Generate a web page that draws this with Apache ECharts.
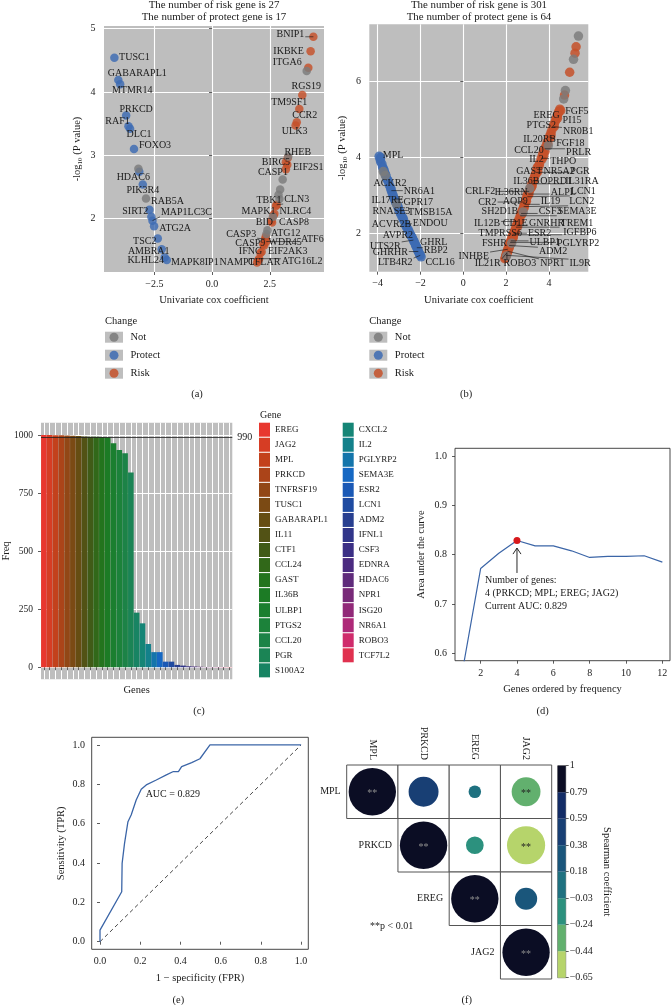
<!DOCTYPE html>
<html>
<head>
<meta charset="utf-8">
<title>Figure</title>
<script src="https://cdn.jsdelivr.net/npm/echarts@6/dist/echarts.min.js"></script>
<style>
html,body{margin:0;padding:0;background:#ffffff;}
#chart{width:671px;height:1005px;}
</style>
</head>
<body>
<div id="chart"></div>
<script>
// ================= DATA =================
// ---- Panel (a): univariate cox, training set ----
const riskCountA = 27, protectCountA = 17;
const protectA = [
 ['TUSC1',-4.23,4.54],['GABARAPL1',-4.06,4.19],['MTMR14',-3.98,4.12],['PRKCD',-3.72,3.63],
 ['RAF1',-3.62,3.46],['DLC1',-3.55,3.42],['FOXO3',-3.38,3.10],['HDAC6',-3.15,2.74],
 ['PIK3R4',-3.00,2.54],['RAB5A',-2.71,2.14],['SIRT2',-2.63,2.03],['MAP1LC3C',-2.58,1.97],
 ['ATG2A',-2.51,1.88],['TSC2',-2.35,1.69],['AMBRA1',-2.18,1.52],['KLHL24',-2.05,1.39],['MAPK8IP1',-1.96,1.35]
];
const riskA = [
 ['BNIP1',4.39,4.87],['IKBKE',4.27,4.64],['ITGA6',4.17,4.38],['RGS19',3.91,3.95],['TM9SF1',3.78,3.73],
 ['CCR2',3.67,3.52],['ULK3',3.62,3.47],['RHEB',3.28,2.96],['BIRC5',3.20,2.89],['EIF2S1',3.26,2.85],
 ['CASP1',3.20,2.78],['TBK1',2.77,2.20],['CLN3',2.80,2.22],['MAPK1',2.66,2.05],['NLRC4',2.70,2.08],
 ['BID',2.57,1.97],['CASP8',2.60,1.94],['CASP3',2.30,1.68],['ATG12',2.33,1.72],['CASP9',2.22,1.60],
 ['WDR45',2.26,1.58],['ATF6',2.35,1.64],['IFNG',2.10,1.46],['EIF2AK3',2.15,1.48],['NAMPT',1.95,1.31],
 ['CFLAR',2.00,1.34],['ATG16L2',2.04,1.37]
];
const notA = [[-3.19,2.79],[-2.86,2.32],[4.10,4.33],[3.30,2.98],[3.06,2.62],[2.95,2.46],[2.88,2.38],[2.92,2.31],[2.64,2.03],[2.40,1.82],[2.36,1.76]];

// ---- Panel (b): univariate cox, immune genes ----
const riskCountB = 301, protectCountB = 64;
const protectB = [
 ['MPL',-3.93,4.02],['',-3.89,3.95],['',-3.86,3.88],['',-3.80,3.82],['',-3.77,3.74],['',-3.70,3.66],
 ['',-3.68,3.60],['ACKR2',-3.61,3.50],['',-3.56,3.42],['',-3.49,3.35],['',-3.46,3.27],['',-3.40,3.20],
 ['NR6A1',-3.36,3.12],['',-3.32,3.05],['IL17RE',-3.26,2.95],['GPR17',-3.22,2.90],['',-3.15,2.80],
 ['',-3.08,2.73],['RNASE3',-3.03,2.65],['TMSB15A',-2.99,2.60],['',-2.92,2.50],['',-2.86,2.43],
 ['ACVR2B',-2.79,2.35],['ENDOU',-2.71,2.25],['',-2.65,2.16],['AVPR2',-2.54,2.05],['',-2.46,1.95],
 ['',-2.38,1.88],['UTS2R',-2.33,1.82],['GHRL',-2.27,1.75],['',-2.22,1.68],['RBP2',-2.17,1.62],
 ['',-2.13,1.57],['GHRHR',-2.10,1.52],['',-2.05,1.47],['LTB4R2',-2.01,1.42],['CCL16',-1.97,1.38],
 ['',-3.86,3.99],['',-3.74,3.70],['',-3.63,3.55],['',-3.52,3.38],['',-3.38,3.16],['',-3.28,3.00],
 ['',-3.18,2.85],['',-3.05,2.70],['',-2.95,2.55],['',-2.82,2.40],['',-2.68,2.20],['',-2.58,2.10],
 ['',-2.50,2.00],['',-2.42,1.92],['',-2.30,1.78],['',-2.20,1.66],['',-2.12,1.54],['',-2.04,1.44]
];
const riskB = [
 ['FGF5',4.51,5.26],['EREG',4.45,5.17],['PI15',4.38,5.07],['PTGS2',4.30,4.94],['NR0B1',4.20,4.80],
 ['IL20RB',4.08,4.62],['FGF18',4.02,4.53],['CCL20',3.86,4.28],['PRLR',3.80,4.22],['IL2',3.70,4.06],
 ['THPO',3.64,3.97],['GAST',3.50,3.76],['NR5A2',3.45,3.68],['PGR',3.40,3.60],['IL36B',3.32,3.47],
 ['OPRD1',3.26,3.38],['IL31RA',3.21,3.30],['IL36RN',3.12,3.16],['CRLF2',3.08,3.10],['ALPL',3.04,3.03],
 ['LCN1',2.99,2.96],['AQP9',2.94,2.88],['CR2',2.90,2.82],['IL19',2.86,2.76],['LCN2',2.82,2.70],
 ['SH2D1B',2.74,2.58],['CSF3',2.70,2.52],['SEMA3E',2.66,2.46],['IL12B',2.56,2.31],['CD1E',2.52,2.25],
 ['GNRHR',2.49,2.21],['TREM1',2.46,2.16],['TMPRSS6',2.38,2.04],['ESR2',2.35,2.00],['IGFBP6',2.32,1.96],
 ['FSHR',2.25,1.85],['ULBP1',2.22,1.80],['PGLYRP2',2.19,1.76],['ADM2',2.14,1.68],['INHBE',2.08,1.58],
 ['NPR1',2.06,1.53],['ROBO3',2.04,1.50],['IL21R',2.03,1.48],['IL9R',2.00,1.42],
 ['',1.97,1.36],['',1.99,1.40],['',2.01,1.45],['',2.09,1.55],['',2.12,1.63],['',2.17,1.72],
 ['',2.30,1.92],['',2.43,2.10],['',2.61,2.38],['',2.78,2.63],['',3.16,3.22],['',3.35,3.52],
 ['',3.57,3.85],['',3.74,4.13],['',3.91,4.38],['',4.13,4.70],['',4.24,4.87],['',4.33,5.00],
 ['',4.41,5.12],['',4.47,5.20],['',2.32,1.88],['',2.55,2.28],['',2.98,3.00],['',3.45,3.72],
 ['',4.55,5.22],['',4.40,5.02],['',4.25,4.80],['',4.10,4.58],['',3.95,4.35],['',3.82,4.15],
 ['',3.68,3.95],['',3.55,3.78],['',3.42,3.58],['',3.30,3.40],['',3.18,3.20],['',3.06,3.02],
 ['',2.95,2.84],['',2.85,2.68],['',2.74,2.50],['',2.64,2.34],['',2.54,2.18],['',2.44,2.04],
 ['',2.34,1.90],['',2.24,1.76],['',2.15,1.62],['',2.07,1.50],['',1.94,1.33],['',4.08,4.52],
 ['',3.75,4.02],['',3.48,3.62],['',3.22,3.25],['',2.92,2.88],['',2.68,2.46],['',2.40,2.02],['',2.18,1.70],
 ['',4.73,5.63],['',4.97,6.23],['',5.22,6.73],['',5.27,6.90]
];
const notB = [[-3.74,3.62],[-3.64,3.52],[-3.12,2.77],[5.38,7.18],[5.15,6.57],[4.77,5.75],[4.69,5.53],[3.97,4.30],[2.80,2.56],[2.02,1.40],[2.26,1.74],[3.10,3.18]];

// ---- Panel (c): frequency of genes ----
const genesC = ['EREG','JAG2','MPL','PRKCD','TNFRSF19','TUSC1','GABARAPL1','IL11','CTF1','CCL24','GAST','IL36B','ULBP1','PTGS2','CCL20','PGR','S100A2',
 'CXCL2','IL2','PGLYRP2','SEMA3E','ESR2','LCN1','ADM2','IFNL1','CSF3','EDNRA','HDAC6','NPR1','ISG20','NR6A1','ROBO3','TCF7L2'];
const freqC = [1000,1000,999,999,998,997,996,994,993,992,991,990,965,935,921,839,235,189,100,65,65,24,24,10,7,4,3,2,1,1,1,1,1];
const freqThresholdC = 990;
const colorsC = ['#e8372f','#d63d24','#c3411c','#ab4419','#924716','#7b4a14','#664d12','#525215','#405b17','#316819','#23741d','#1c7b25','#1b7f2f','#1c823a','#1c8347','#1b8455','#188463',
 '#158576','#13818b','#1475ab','#1668c3','#1a59b6','#1f4ba1','#283f90','#31368a','#3b2f85','#4b2b80','#5f2b7b','#782a78','#912978','#ae2978','#cf2b6b','#e0314f'];

// ---- Panel (d): AUC vs number of genes ----
const nGenesD = [1,2,3,4,5,6,7,8,9,10,11,12];
const aucD = [0.564,0.772,0.803,0.829,0.818,0.818,0.808,0.7945,0.7966,0.7966,0.798,0.785];
const bestD = 4;
const bestGenesD = ['PRKCD','MPL','EREG','JAG2'];

// ---- Panel (e): ROC ----
const fprE = [0,0,0.108,0.110,0.122,0.139,0.155,0.180,0.205,0.230,0.280,0.330,0.365,0.390,0.406,0.456,0.497,0.547,1.0];
const tprE = [0,0.059,0.254,0.398,0.500,0.610,0.644,0.720,0.775,0.797,0.822,0.848,0.865,0.865,0.890,0.910,0.930,1.0,1.0];
const aucE = 0.829;

// ---- Panel (f): Spearman correlation ----
const genesF = ['MPL','PRKCD','EREG','JAG2'];
const corrF = [[1,0.40,0.07,-0.37],[0.40,1,-0.14,-0.65],[0.07,-0.14,1,0.22],[-0.37,-0.65,0.22,1]];
const sigF = [[1,0,0,1],[0,1,0,1],[0,0,1,0],[1,1,0,1]];
const cbBreaks = [-0.65,-0.44375,-0.2375,-0.03125,0.175,0.38125,0.5875,0.79375,1];
const cbLabels = ['\u22120.65','\u22120.44','\u22120.24','\u22120.03','0.18','0.38','0.59','0.79','1'];
const cbColors = ['#b6d46b','#62b06e','#2c917e','#1f7180','#1a567b','#183f74','#132c66','#0b0d24'];

// ================= LAYOUT / STYLE =================
const FONT = '"Liberation Serif","Times New Roman",serif';
const TXT = '#1a1a1a';
const PANEL_BG = '#bebebe';
const CHANGE_COLORS = { Not:'#7b7b7b', Protect:'#3d6bb3', Risk:'#c6512a' };

// label offsets (pixels, label centre relative to point)
const labelOffsetA = {
 TUSC1:[20,0],GABARAPL1:[19,-7],MTMR14:[12,6],PRKCD:[10,-6],RAF1:[-11,-5],DLC1:[9,6],FOXO3:[21,-4],
 HDAC6:[-6,6],PIK3R4:[0,6],RAB5A:[18,-8],SIRT2:[-16,-5],MAP1LC3C:[34,-8],ATG2A:[21,2],TSC2:[-13,3],
 AMBRA1:[-13,2],KLHL24:[-19,3],MAPK8IP1:[28,2],
 BNIP1:[-23,-2],IKBKE:[-22,0],ITGA6:[-21,-5],RGS19:[4,-9],TM9SF1:[-10,-7],CCR2:[8,-7],ULK3:[-1,6],
 RHEB:[10,-6],BIRC5:[-10,0],EIF2S1:[21,3],CASP1:[-13,3],TBK1:[-7,-6],CLN3:[20,-5],MAPK1:[-15,-4],
 NLRC4:[21,-2],BID:[-7,2],CASP8:[22,0],CASP3:[-24,-5],ATG12:[20,-3],CASP9:[-13,-1],WDR45:[21,-3],
 ATF6:[46,-2],IFNG:[-10,-2],EIF2AK3:[26,0],NAMPT:[-20,0],CFLAR:[6,2],ATG16L2:[43,3]
};
const labelOffsetB = {
 MPL:[14,-1],ACKR2:[4,7],NR6A1:[28,1],IL17RE:[-6,3],GPR17:[24,3],RNASE3:[-7,3],TMSB15A:[31,2],
 ACVR2B:[-12,4],ENDOU:[25,0],AVPR2:[-11,4],UTS2R:[-28,6],GHRL:[19,0],RBP2:[19,3],GHRHR:[-28,1],
 LTB4R2:[-25,7],CCL16:[19,6],
 FGF5:[17,2],EREG:[-12,3],PI15:[15,4],PTGS2:[-14,4],NR0B1:[25,5],IL20RB:[-11,6],FGF18:[21,6],
 CCL20:[-17,4],PRLR:[34,4],IL2:[-6,5],THPO:[22,3],GAST:[-9,5],NR5A2:[22,2],PGR:[44,-1],IL36B:[-8,4],
 OPRD1:[23,1],IL31RA:[50,-2],IL36RN:[-19,3],CRLF2:[-49,0],ALPL:[35,-2],LCN1:[56,-5],AQP9:[-11,2],
 CR2:[-38,0],IL19:[26,-3],LCN2:[58,-5],SH2D1B:[-22,0],CSF3:[29,-2],SEMA3E:[57,-4],IL12B:[-31,2],
 CD1E:[-2,0],GNRHR:[30,-2],TREM1:[61,-4],TMPRSS6:[-14,2],ESR2:[26,0],IGFBP6:[67,-2],FSHR:[-17,4],
 ULBP1:[34,2],PGLYRP2:[68,1],ADM2:[44,6],INHBE:[-34,7],NPR1:[45,12],ROBO3:[13,11],IL21R:[-19,10],IL9R:[74,8]
};
const annotPosD = [2.24, 0.760];
const arrowD = [bestD, 0.763, 0.8135];
const aucLabelPosE = [0.227, 0.749];

// ================= HELPERS =================
const mctx = document.createElement('canvas').getContext('2d');
function textW(s, size){ mctx.font = size + 'px ' + FONT; return mctx.measureText(s).width; }
function txtStyle(o){ return Object.assign({fill:TXT, fontSize:10, fontFamily:FONT, align:'center', verticalAlign:'middle', textAlign:'center', textVerticalAlign:'middle'}, o); }
function gtext(x, y, text, o){ return {type:'text', x:x, y:y, silent:true, z:100, style:txtStyle(Object.assign({text:text, fontSize:10.5}, o||{}))}; }
function fmtSigned(d){ return function(v){ return (v < -1e-9 ? '\u2212' : '') + Math.abs(v).toFixed(d); }; }

function ggValueAxis(gi, min, max, ticks, fmt, name, nameGap, opt){
  opt = opt || {};
  return {
    type:'value', gridIndex:gi, min:min, max:max, name:name, nameLocation:'middle', nameGap:nameGap,
    nameRotate: opt.nameRotate, nameMoveOverlap:false,
    nameTextStyle:Object.assign({fontFamily:FONT, fontSize:10.5, color:TXT}, opt.nameTextStyle || {}),
    axisLine:{show:false},
    axisTick:{show:true, customValues:ticks, length:3, lineStyle:{color:'#333', width:0.8}},
    axisLabel:{show:true, customValues:ticks, formatter:fmt, color:'#222', fontFamily:FONT, fontSize:opt.labelSize || 10, margin:opt.margin || 7},
    splitLine:{show:opt.split !== false, lineStyle:{color:'#ffffff', width:1.1}},
    splitArea:{show:false}
  };
}

function scatterSeries(name, gi, pts, size, opacity){
  return {type:'scatter', name:name, xAxisIndex:gi, yAxisIndex:gi, symbol:'circle', symbolSize:size, silent:true, z:2,
    data:pts, itemStyle:{color:CHANGE_COLORS[name], opacity:opacity || 0.82, borderWidth:0}};
}

function labelSeries(id, gi, items, offsets, fontSize, minSeg){
  const labeled = items.filter(function(d){ return d[0]; });
  return {
    type:'custom', name:id, xAxisIndex:gi, yAxisIndex:gi, z:10, silent:true,
    data: labeled.map(function(d){ return [d[1], d[2]]; }),
    renderItem: function(params, api){
      const d = labeled[params.dataIndex];
      const p = api.coord([api.value(0), api.value(1)]);
      const off = offsets[d[0]] || [0,-8];
      const c = [p[0] + off[0], p[1] + off[1]];
      const hw = textW(d[0], fontSize) / 2 + 1, hh = fontSize * 0.42;
      const q = [Math.min(Math.max(p[0], c[0]-hw), c[0]+hw), Math.min(Math.max(p[1], c[1]-hh), c[1]+hh)];
      const dist = Math.hypot(p[0]-q[0], p[1]-q[1]);
      const children = [];
      if (dist > minSeg) children.push({type:'line', shape:{x1:p[0], y1:p[1], x2:q[0], y2:q[1]}, style:{stroke:'#111', lineWidth:0.6}});
      children.push({type:'text', x:c[0], y:c[1], style:txtStyle({text:d[0], fontSize:fontSize})});
      return {type:'group', children:children};
    }
  };
}

function textSeries(gi, pts, texts, o){
  return {type:'custom', xAxisIndex:gi, yAxisIndex:gi, silent:true, z:11, data:pts,
    renderItem: function(params, api){
      const p = api.coord([api.value(0), api.value(1)]);
      return {type:'text', x:p[0], y:p[1], style:txtStyle(Object.assign({text:texts[params.dataIndex], align:'left', textAlign:'left'}, o||{}))};
    }};
}

function changeLegends(left, top){
  const names = ['Not','Protect','Risk'];
  return [
    {left:left, top:top, orient:'vertical', padding:0, itemWidth:18, itemHeight:11, itemGap:7, selectedMode:false,
     formatter:function(){ return ''; }, textStyle:{fontSize:10, lineHeight:11},
     data:names.map(function(n){ return {name:n, icon:'rect', itemStyle:{color:'#bebebe', opacity:1, borderWidth:0}}; })},
    {left:left + 4.5, top:top, orient:'vertical', padding:0, itemWidth:9, itemHeight:9, itemGap:7, selectedMode:false,
     formatter:'{t|{name}}',
     textStyle:{fontSize:10.5, lineHeight:11, fontFamily:FONT, color:TXT, rich:{t:{fontSize:10.5, lineHeight:11, fontFamily:FONT, color:TXT, padding:[0,0,0,7]}}},
     data:names.map(function(n){ return {name:n, icon:'circle', itemStyle:{color:CHANGE_COLORS[n], opacity:0.85, borderWidth:0}}; })}
  ];
}

// ================= BUILD OPTION =================
const series = [];
// (a)
series.push(scatterSeries('Protect', 0, protectA.map(function(d){return [d[1],d[2]];}), 8.5));
series.push(scatterSeries('Risk', 0, riskA.map(function(d){return [d[1],d[2]];}), 8.5));
series.push(scatterSeries('Not', 0, notA, 8.5));
series.push(labelSeries('labelsA', 0, protectA.concat(riskA), labelOffsetA, 10, 6));
// (b)
series.push(scatterSeries('Protect', 1, protectB.map(function(d){return [d[1],d[2]];}), 9.5, 0.85));
series.push(scatterSeries('Risk', 1, riskB.map(function(d){return [d[1],d[2]];}), 9.5, 0.85));
series.push(scatterSeries('Not', 1, notB, 9.5));
series.push(labelSeries('labelsB', 1, protectB.concat(riskB), labelOffsetB, 10, 5));
// (c)
genesC.forEach(function(g, i){
  const s = {type:'bar', name:g, stack:'freq', xAxisIndex:2, yAxisIndex:2, silent:true, barCategoryGap:'3%',
    data: genesC.map(function(_, j){ return j === i ? freqC[i] : '-'; }),
    itemStyle:{color:colorsC[i], borderWidth:0}};
  if (i === 0) {
    s.markLine = {silent:true, symbol:'none', animation:false,
      lineStyle:{color:'#222', type:'solid', width:0.8},
      label:{show:true, position:'end', distance:5, formatter:String(freqThresholdC), fontFamily:FONT, fontSize:10, color:TXT},
      data:[{yAxis:freqThresholdC}]};
  }
  series.push(s);
});
// (d)
series.push({type:'line', name:'aucLine', xAxisIndex:3, yAxisIndex:3, silent:true, symbol:'none', clip:true,
  data:nGenesD.map(function(n,i){ return [n, aucD[i]]; }), lineStyle:{color:'#3b65a7', width:1.2}});
series.push({type:'scatter', name:'aucBest', xAxisIndex:3, yAxisIndex:3, silent:true, symbolSize:7, z:5,
  data:[[bestD, aucD[bestD-1]]], itemStyle:{color:'#d7191c', opacity:1}});
series.push({type:'custom', name:'arrowD', xAxisIndex:3, yAxisIndex:3, silent:true, z:6, data:[arrowD],
  renderItem:function(params, api){
    const a = api.coord([api.value(0), api.value(1)]);
    const b = api.coord([api.value(0), api.value(2)]);
    return {type:'group', children:[
      {type:'line', shape:{x1:a[0], y1:a[1], x2:b[0], y2:b[1]}, style:{stroke:'#111', lineWidth:0.9}},
      {type:'polyline', shape:{points:[[b[0]-4, b[1]+6],[b[0], b[1]],[b[0]+4, b[1]+6]]}, style:{stroke:'#111', lineWidth:0.9, fill:null}}
    ]};
  }});
series.push(textSeries(3, [annotPosD], ['Number of genes:\n' + bestD + ' (' + bestGenesD.join('; ') + ')\nCurrent AUC: ' + aucD[bestD-1].toFixed(3)],
  {verticalAlign:'top', textVerticalAlign:'top', lineHeight:12.7, fontSize:10}));
// (e)
series.push({type:'line', name:'diag', xAxisIndex:4, yAxisIndex:4, silent:true, symbol:'none', data:[[0,0],[1,1]],
  lineStyle:{color:'#333', width:0.9, type:[4,3]}});
series.push({type:'line', name:'roc', xAxisIndex:4, yAxisIndex:4, silent:true, symbol:'none',
  data:fprE.map(function(f,i){ return [f, tprE[i]]; }), lineStyle:{color:'#3b65a7', width:1.3}});
series.push(textSeries(4, [aucLabelPosE], ['AUC = ' + aucE.toFixed(3)], {fontSize:10}));
// (f)
const cellsF = [];
for (let r = 0; r < genesF.length; r++) for (let c = r; c < genesF.length; c++) cellsF.push([c, r, corrF[r][c]]);
const fIndex = series.length;
series.push({type:'custom', name:'corr', xAxisIndex:5, yAxisIndex:5, silent:true, data:cellsF,
  renderItem:function(params, api){
    const col = api.value(0), row = api.value(1), v = api.value(2);
    const c = api.coord([col, row]);
    const s = api.size([1, 1]);
    const w = s[0], h = s[1];
    const ch = [{type:'rect', shape:{x:c[0]-w/2, y:c[1]-h/2, width:w, height:h}, style:{fill:'#ffffff', stroke:'#555', lineWidth:1}}];
    ch.push({type:'circle', shape:{cx:c[0], cy:c[1], r:Math.sqrt(Math.abs(v)) * Math.min(w,h) * 0.462}, style:{fill:api.visual('color')}});
    if (sigF[row][col]) ch.push({type:'text', x:c[0], y:c[1]+2, style:txtStyle({text:'**', fontSize:10, fill: v < cbBreaks[2] ? '#222' : '#8c8c8c'})});
    if (col === row) ch.push({type:'text', x:c[0]-w/2-6, y:c[1], style:txtStyle({text:genesF[row], fontSize:10, align:'right', textAlign:'right'})});
    return {type:'group', children:ch};
  }});
// colour bar
cbColors.forEach(function(col, i){
  series.push({type:'bar', name:'cb'+i, stack:'cb', xAxisIndex:6, yAxisIndex:6, silent:true, barWidth:'100%', data:[1], itemStyle:{color:col, borderWidth:0}});
});

const gridCommon = {containLabel:false, outerBoundsMode:'none'};
const option = {
  animation:false,
  backgroundColor:'#ffffff',
  textStyle:{fontFamily:FONT},
  grid:[
    Object.assign({left:104, top:26, width:220, height:246, show:true, backgroundColor:PANEL_BG, borderWidth:0}, gridCommon),
    Object.assign({left:369.3, top:24.3, width:219, height:247.4, show:true, backgroundColor:PANEL_BG, borderWidth:0}, gridCommon),
    Object.assign({left:41, top:422.7, width:191.3, height:256.6, show:true, backgroundColor:PANEL_BG, borderWidth:0}, gridCommon),
    Object.assign({left:455, top:448.3, width:215, height:212.4, show:true, backgroundColor:'#ffffff', borderColor:'#333', borderWidth:0.9}, gridCommon),
    Object.assign({left:91.7, top:737.3, width:216.6, height:212, show:true, backgroundColor:'#ffffff', borderColor:'#333', borderWidth:0.9}, gridCommon),
    Object.assign({left:346.7, top:765, width:205, height:214, show:false}, gridCommon),
    Object.assign({left:557.7, top:765.7, width:8, height:212, show:true, backgroundColor:'#ffffff', borderColor:'#222', borderWidth:0.6}, gridCommon)
  ],
  xAxis:[
    ggValueAxis(0, -4.68, 4.85, [-2.5,0,2.5], fmtSigned(1), 'Univariate cox coefficient', 23),
    ggValueAxis(1, -4.39, 5.84, [-4,-2,0,2,4], fmtSigned(0), 'Univariate cox coefficient', 23),
    {type:'category', gridIndex:2, data:genesC, name:'Genes', nameLocation:'middle', nameGap:5, nameMoveOverlap:false,
     nameTextStyle:{fontFamily:FONT, fontSize:10.5, color:TXT},
     axisLine:{show:false}, axisLabel:{show:false},
     axisTick:{show:true, alignWithLabel:true, interval:0, length:3, lineStyle:{color:'#333', width:0.8}},
     splitLine:{show:true, interval:0, alignWithLabel:true, lineStyle:{color:'#ffffff', width:1}}},
    ggValueAxis(3, 0.59, 12.42, [2,4,6,8,10,12], function(v){ return String(v); }, 'Genes ordered by frequency', 23.5, {split:false, margin:8}),
    ggValueAxis(4, -0.0413, 1.036, [0,0.2,0.4,0.6,0.8,1.0], fmtSigned(1), '1 \u2212 specificity (FPR)', 23.5, {split:false, margin:7.5}),
    {type:'category', gridIndex:5, data:genesF, position:'top', axisLine:{show:false}, axisTick:{show:false}, splitLine:{show:false},
     axisLabel:{rotate:90, margin:5, interval:0, fontFamily:FONT, fontSize:10, color:TXT}},
    {type:'category', gridIndex:6, data:['cb'], show:false}
  ],
  yAxis:[
    ggValueAxis(0, 1.16, 5.04, [2,3,4,5], function(v){ return String(v); }, '-log{s|10} (P value)', 20.5,
      {nameRotate:90, margin:8.5, nameTextStyle:{rich:{s:{fontSize:7, fontFamily:FONT, color:TXT, verticalAlign:'bottom', lineHeight:12}}}}),
    ggValueAxis(1, 0.99, 7.49, [2,4,6], function(v){ return String(v); }, '-log{s|10} (P value)', 20.8,
      {nameRotate:90, margin:8.3, nameTextStyle:{rich:{s:{fontSize:7, fontFamily:FONT, color:TXT, verticalAlign:'bottom', lineHeight:12}}}}),
    ggValueAxis(2, -52, 1053, [0,250,500,750,1000], function(v){ return String(v); }, 'Freq', 29, {nameRotate:90, margin:8, labelSize:9.5}),
    ggValueAxis(3, 0.585, 1.016, [0.6,0.7,0.8,0.9,1.0], fmtSigned(1), 'Area under the curve', 27.8, {nameRotate:90, split:false, margin:8}),
    ggValueAxis(4, -0.0386, 1.039, [0,0.2,0.4,0.6,0.8,1.0], fmtSigned(1), 'Sensitivity (TPR)', 25, {nameRotate:90, split:false, margin:6.7}),
    {type:'category', gridIndex:5, data:genesF, inverse:true, show:false},
    {type:'value', gridIndex:6, min:0, max:8, interval:1, position:'right',
     name:'Spearman coefficient', nameLocation:'middle', nameRotate:-90, nameGap:35.5, nameMoveOverlap:false,
     nameTextStyle:{fontFamily:FONT, fontSize:10.5, color:TXT},
     axisLine:{show:false}, splitLine:{show:false},
     axisTick:{show:true, length:3, lineStyle:{color:'#333', width:0.8}},
     axisLabel:{margin:4, fontFamily:FONT, fontSize:10, color:TXT, formatter:function(v){ return cbLabels[Math.round(v)]; }}}
  ],
  visualMap:[{type:'piecewise', show:false, seriesIndex:fIndex, dimension:2,
    pieces:cbColors.map(function(col, i){ return i === cbColors.length - 1 ? {gte:cbBreaks[i], lte:cbBreaks[i+1], color:col} : {gte:cbBreaks[i], lt:cbBreaks[i+1], color:col}; })}],
  legend: changeLegends(105, 331.7).concat(changeLegends(369.3, 331.7)).concat([
    {left:259, top:422.7, orient:'vertical', padding:0, itemWidth:11, itemHeight:14, itemGap:1.04, selectedMode:false, icon:'rect',
     textStyle:{fontSize:9, lineHeight:12, fontFamily:FONT, color:TXT}, data:genesC.slice(0,17)},
    {left:342.7, top:422.7, orient:'vertical', padding:0, itemWidth:11, itemHeight:14, itemGap:1.04, selectedMode:false, icon:'rect',
     textStyle:{fontSize:9, lineHeight:12, fontFamily:FONT, color:TXT}, data:genesC.slice(17)}
  ]),
  graphic:[
    gtext(214, 4.8, 'The number of risk gene is ' + riskCountA, {fontSize:10.9}),
    gtext(214, 16.9, 'The number of protect gene is ' + protectCountA, {fontSize:10.9}),
    gtext(479, 4.8, 'The number of risk gene is ' + riskCountB, {fontSize:10.9}),
    gtext(479, 16.9, 'The number of protect gene is ' + protectCountB, {fontSize:10.9}),
    gtext(105, 321, 'Change', {align:'left', textAlign:'left'}),
    gtext(369.3, 321, 'Change', {align:'left', textAlign:'left'}),
    gtext(260, 415, 'Gene', {align:'left', textAlign:'left', fontSize:10}),
    gtext(370, 926.7, '**p < 0.01', {align:'left', textAlign:'left', fontSize:10}),
    gtext(197, 394, '(a)'), gtext(466, 394, '(b)'),
    gtext(199, 711.7, '(c)'), gtext(542.7, 711.7, '(d)'),
    gtext(178.3, 1000, '(e)'), gtext(466.7, 1000, '(f)')
  ],
  series:series
};

const chart = echarts.init(document.getElementById('chart'), null, {renderer:'canvas'});
chart.setOption(option);
</script>
</body>
</html>
